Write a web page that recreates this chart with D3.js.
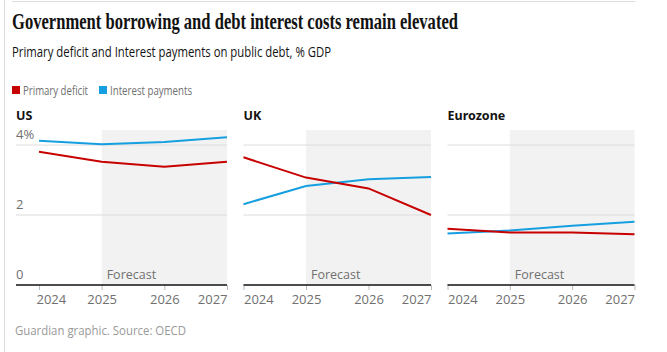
<!DOCTYPE html>
<html><head><meta charset="utf-8">
<script src="https://cdn.jsdelivr.net/npm/d3@7"></script>
<style>
html,body{margin:0;padding:0;background:#fff;}
svg{display:block;}
</style></head>
<body>
<svg id="chart" width="667" height="352"></svg>
<script>
const years = [2024, 2025, 2026, 2027];
const regions = ["US", "UK", "Eurozone"];
const usDeficit = [3.81, 3.52, 3.38, 3.52];
const usInterest = [4.12, 4.02, 4.09, 4.22];
const ukDeficit = [3.65, 3.07, 2.76, 2.0];
const ukInterest = [2.31, 2.83, 3.02, 3.09];
const ezDeficit = [1.61, 1.50, 1.50, 1.45];
const ezInterest = [1.47, 1.56, 1.69, 1.81];
const yTicks = [0, 2, 4];
const yTickLabels = ["0", "2", "4%"];
const seriesNames = ["Primary deficit", "Interest payments"];
const forecastStart = 2025;

const deficits = [usDeficit, ukDeficit, ezDeficit];
const interests = [usInterest, ukInterest, ezInterest];

const RED = "#c70000", BLUE = "#169fe0";
const SANS = "'Open Sans', 'Noto Sans', sans-serif";
const svg = d3.select("#chart");

// frame
svg.append("line").attr("x1", 4.5).attr("x2", 4.5).attr("y1", 0).attr("y2", 352)
  .attr("stroke", "#dcdcdc").attr("stroke-width", 1);
svg.append("line").attr("x1", 12).attr("x2", 635).attr("y1", 1.5).attr("y2", 1.5)
  .attr("stroke", "#dcdcdc").attr("stroke-width", 1);

// title
svg.append("text").attr("x", 12).attr("y", 29)
  .attr("font-family", "'Liberation Serif', 'DejaVu Serif', serif")
  .attr("font-weight", "bold").attr("font-size", 23).attr("fill", "#121212")
  .attr("textLength", 446).attr("lengthAdjust", "spacingAndGlyphs")
  .text("Government borrowing and debt interest costs remain elevated");

svg.append("text").attr("x", 12).attr("y", 57)
  .attr("font-family", SANS).attr("font-size", 15).attr("fill", "#121212")
  .attr("textLength", 319).attr("lengthAdjust", "spacingAndGlyphs")
  .text("Primary deficit and Interest payments on public debt, % GDP");

// legend
const legendX = [12, 99];
const legendW = [65, 82];
[RED, BLUE].forEach((c, i) => {
  svg.append("rect").attr("x", legendX[i]).attr("y", 86).attr("width", 8).attr("height", 8).attr("fill", c);
  svg.append("text").attr("x", legendX[i] + 11).attr("y", 94.5)
    .attr("font-family", SANS).attr("font-size", 13.5).attr("fill", "#707070")
    .attr("textLength", legendW[i]).attr("lengthAdjust", "spacingAndGlyphs")
    .text(seriesNames[i]);
});

// panels
const panelRange = [[39, 227], [243.5, 431], [447.5, 634.5]];
const axisStart = [16, 243.5, 447.5];
const y = d3.scaleLinear().domain([0, 4.43]).range([285, 130]);

regions.forEach((name, p) => {
  const x = d3.scaleLinear().domain([years[0], years[years.length - 1]]).range(panelRange[p]);
  const g = svg.append("g");
  const xl = axisStart[p], xr = panelRange[p][1];

  // forecast shading
  g.append("rect").attr("x", x(forecastStart)).attr("y", y(4.43))
    .attr("width", x(years[years.length - 1]) - x(forecastStart))
    .attr("height", y(0) - y(4.43)).attr("fill", "#f2f2f2");

  // gridlines
  yTicks.filter(t => t > 0).forEach(t => {
    g.append("line").attr("x1", xl).attr("x2", xr).attr("y1", y(t)).attr("y2", y(t))
      .attr("stroke", "#dcdcdc").attr("stroke-width", 1);
  });

  // y labels only on first panel
  if (p === 0) {
    yTicks.forEach((t, i) => {
      g.append("text").attr("x", xl).attr("y", y(t) - 6)
        .attr("font-family", SANS).attr("font-size", 13).attr("fill", "#707070")
        .text(yTickLabels[i]);
    });
  }

  // forecast label
  g.append("text").attr("x", x(forecastStart) + 5).attr("y", y(0) - 6)
    .attr("font-family", SANS).attr("font-size", 12.5).attr("fill", "#707070")
    .text("Forecast");

  // x axis
  const axis = d3.axisBottom(x).tickValues(years).tickFormat(d3.format("d")).tickSize(5).tickPadding(5);
  const ag = g.append("g").attr("transform", `translate(0,${y(0)})`).call(axis);
  ag.select(".domain").remove();
  ag.selectAll(".tick line").attr("stroke", "#bbbbbb");
  ag.selectAll(".tick text").attr("font-family", SANS).attr("font-size", 13).attr("fill", "#707070")
    .attr("text-anchor", (d, i) => i === 0 ? "start" : (i === years.length - 1 ? "end" : "middle"))
    .attr("dx", (d, i) => i === 0 ? (p === 0 ? -3 : 0) : 0);
  g.append("line").attr("x1", xl).attr("x2", xr).attr("y1", y(0)).attr("y2", y(0))
    .attr("stroke", "#121212").attr("stroke-width", 1.5);

  // lines
  const line = d3.line().x((d, i) => x(years[i])).y(d => y(d));
  g.append("path").datum(interests[p]).attr("d", line).attr("fill", "none")
    .attr("stroke", BLUE).attr("stroke-width", 2);
  g.append("path").datum(deficits[p]).attr("d", line).attr("fill", "none")
    .attr("stroke", RED).attr("stroke-width", 2);

  // panel title
  g.append("text").attr("x", xl).attr("y", 120)
    .attr("font-family", "'Noto Sans', 'Open Sans', sans-serif").attr("font-weight", "bold")
    .attr("font-size", 12.5).attr("fill", "#121212").text(name);
});

// source
svg.append("text").attr("x", 15).attr("y", 335)
  .attr("font-family", SANS).attr("font-size", 12).attr("fill", "#999999")
  .attr("textLength", 171).attr("lengthAdjust", "spacingAndGlyphs")
  .text("Guardian graphic. Source: OECD");
</script>
</body></html>
